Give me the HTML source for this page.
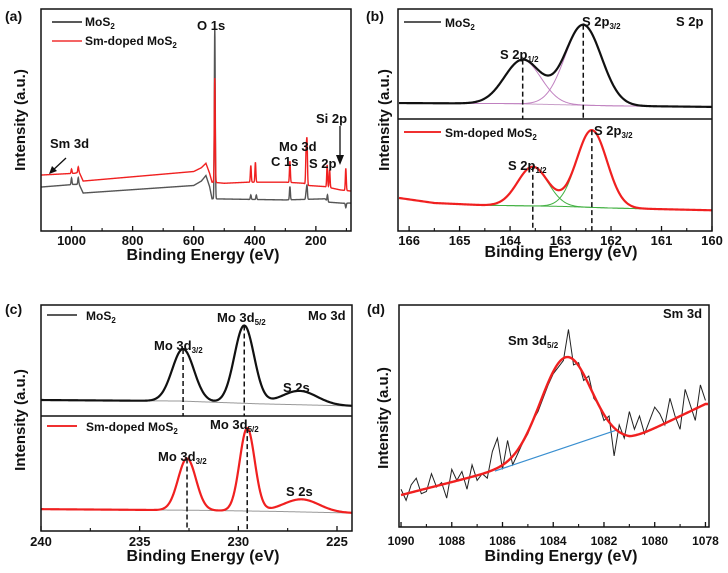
<!DOCTYPE html>
<html><head><meta charset="utf-8">
<style>
html,body{margin:0;padding:0;background:#fff;}
svg{display:block;font-family:"Liberation Sans",Arial,sans-serif;font-weight:bold;}
text{font-weight:bold;fill:#111;}
</style></head>
<body>
<svg id="fig" width="728" height="573" viewBox="0 0 728 573" xmlns="http://www.w3.org/2000/svg">
<rect x="0" y="0" width="728" height="573" fill="#fff"/>
<g id="layerA"></g>
<g id="layerB"></g>
<g id="layerC"></g>
<g id="layerD"></g>

<rect x="41" y="9" width="310" height="222" fill="none" stroke="#111" stroke-width="1.5"/>
<rect x="398" y="9" width="314" height="222" fill="none" stroke="#111" stroke-width="1.5"/>
<line x1="398" y1="119" x2="712" y2="119" stroke="#111" stroke-width="1.5"/>
<rect x="41" y="305" width="311" height="226" fill="none" stroke="#111" stroke-width="1.5"/>
<line x1="41" y1="416" x2="352" y2="416" stroke="#111" stroke-width="1.5"/>
<rect x="399" y="305" width="310" height="222" fill="none" stroke="#111" stroke-width="1.5"/>

<text x="5" y="21" font-size="14">(a)</text>
<text x="366" y="21" font-size="14">(b)</text>
<text x="5" y="314" font-size="14">(c)</text>
<text x="367" y="314" font-size="14">(d)</text>

<text transform="translate(25,120) rotate(-90)" text-anchor="middle" font-size="15">Intensity (a.u.)</text>
<text transform="translate(389,120) rotate(-90)" text-anchor="middle" font-size="15">Intensity (a.u.)</text>
<text transform="translate(25,420) rotate(-90)" text-anchor="middle" font-size="15">Intensity (a.u.)</text>
<text transform="translate(388,418) rotate(-90)" text-anchor="middle" font-size="15">Intensity (a.u.)</text>

<text x="203" y="260" text-anchor="middle" font-size="16">Binding Energy (eV)</text>
<text x="561" y="257" text-anchor="middle" font-size="16">Binding Energy (eV)</text>
<text x="203" y="561" text-anchor="middle" font-size="16">Binding Energy (eV)</text>
<text x="561" y="561" text-anchor="middle" font-size="16">Binding Energy (eV)</text>

<line x1="52" y1="22" x2="82" y2="22" stroke="#222" stroke-width="1.5"/>
<text x="85" y="26" font-size="12">MoS<tspan font-size="8" dy="3">2</tspan></text>
<line x1="52" y1="41" x2="82" y2="41" stroke="#f03030" stroke-width="1.5"/>
<text x="85" y="45" font-size="12">Sm-doped MoS<tspan font-size="8" dy="3">2</tspan></text>
<text x="197" y="30" font-size="13">O 1s</text>
<text x="279" y="151" font-size="13">Mo 3d</text>
<text x="271" y="166" font-size="13">C 1s</text>
<text x="309" y="168" font-size="13">S 2p</text>
<text x="316" y="123" font-size="13">Si 2p</text>
<text x="50" y="148" font-size="13">Sm 3d</text>
<line x1="66" y1="158" x2="51" y2="172" stroke="#111" stroke-width="1.3"/>
<polygon points="49,174 52,166 57,171" fill="#111"/>
<line x1="340" y1="126" x2="340" y2="158" stroke="#111" stroke-width="1.3"/>
<polygon points="336,155 344,155 340,165" fill="#111"/>

<line x1="404" y1="22" x2="441" y2="22" stroke="#222" stroke-width="1.5"/>
<text x="445" y="27" font-size="12">MoS<tspan font-size="8" dy="3">2</tspan></text>
<line x1="404" y1="132" x2="441" y2="132" stroke="#f03030" stroke-width="2"/>
<text x="445" y="137" font-size="12">Sm-doped MoS<tspan font-size="8" dy="3">2</tspan></text>
<text x="676" y="26" font-size="13">S 2p</text>
<text x="582" y="26" font-size="13">S 2p<tspan font-size="8" dy="3">3/2</tspan></text>
<text x="500" y="59" font-size="13">S 2p<tspan font-size="8" dy="3">1/2</tspan></text>
<text x="594" y="135" font-size="13">S 2p<tspan font-size="8" dy="3">3/2</tspan></text>
<text x="508" y="170" font-size="13">S 2p<tspan font-size="8" dy="3">1/2</tspan></text>

<line x1="47" y1="315" x2="77" y2="315" stroke="#222" stroke-width="1.5"/>
<text x="86" y="320" font-size="12">MoS<tspan font-size="8" dy="3">2</tspan></text>
<line x1="47" y1="426" x2="77" y2="426" stroke="#f03030" stroke-width="2"/>
<text x="86" y="431" font-size="12">Sm-doped MoS<tspan font-size="8" dy="3">2</tspan></text>
<text x="308" y="320" font-size="13">Mo 3d</text>
<text x="154" y="350" font-size="13">Mo 3d<tspan font-size="8" dy="3">3/2</tspan></text>
<text x="217" y="322" font-size="13">Mo 3d<tspan font-size="8" dy="3">5/2</tspan></text>
<text x="283" y="392" font-size="13">S 2s</text>
<text x="158" y="461" font-size="13">Mo 3d<tspan font-size="8" dy="3">3/2</tspan></text>
<text x="210" y="429" font-size="13">Mo 3d<tspan font-size="8" dy="3">5/2</tspan></text>
<text x="286" y="496" font-size="13">S 2s</text>

<text x="663" y="318" font-size="13">Sm 3d</text>
<text x="508" y="345" font-size="13">Sm 3d<tspan font-size="8" dy="3">5/2</tspan></text>
</svg>

<script>
const aBlackBgE=[1100,990,975,962,600,575,560,548,540,400,300,170,160,110,85];
const aBlackBgV=[19.8,21,21,17.1,20.5,22.5,25,20,14.5,14.2,14,14.5,13,12.5,12.6];
const aBlackPeakE=[531,229,232,285,162,395,413,1000,978,102];
const aBlackPeakH=[77,6,3,6,3,2,2,3,3,-2];
const aRedBgE=[1100,990,975,962,600,575,560,548,540,500,420,300,240,225,170,120,85];
const aRedBgV=[25.2,26,26.5,22.5,26.8,28.5,30.5,26,22,21.5,22,22,21.5,20.5,20,18.5,18];
const aRedPeakE=[531,229,232,285,163,155,102,398,413,1000,978];
const aRedPeakH=[47,19,14,9.6,10,8,10,9,7.5,2,2.5];
const aTicks=[1000,800,600,400,200];
const aMinor=[900,700,500,300,100];

const bTopBgE=[166.2,164,162,160];
const bTopBgV=[14.5,14,12,11];
const bTopPeakE=[163.75,162.55];
const bTopPeakH=[40,73];
const bTopSigma=[0.36,0.36];
const bBotBgE=[166.2,165.5,164.5,163,162,161,160];
const bBotBgV=[29.5,25,23,22,20.5,19.5,18.5];
const bBotPeakE=[163.55,162.38];
const bBotPeakH=[35,69];
const bBotSigma=[0.3,0.3];
const bTicks=[166,165,164,163,162,161,160];
const bMinor=[165.5,164.5,163.5,162.5,161.5,160.5];

const cTopBgE=[240,233,229,224.2];
const cTopBgV=[14.4,13.5,11,9];
const cTopPeakE=[232.8,229.7,226.9];
const cTopPeakH=[47,70,12.5];
const cTopSigma=[0.55,0.5,0.9];
const cBotBgE=[240,232,228,224.2];
const cBotBgV=[19,18,17,15.6];
const cBotPeakE=[232.6,229.55,226.8];
const cBotPeakH=[45,72,11];
const cBotSigma=[0.45,0.38,0.9];
const cTicks=[240,235,230,225];
const cMinor=[237.5,232.5,227.5];

const dRawStart=1090;
const dRawStep=-0.2;
const dRawV=[17,12,19,22,15,16,24,18,20,13,
 26,21,25,17,28,21,24,22,34,40,
 26,39,28,33,38,42,48,52,58,64,
 69,72,75,89,73,74,66,68,58,55,
 48,50,32,46,40,52,44,50,42,48,
 54,51,46,58,50,44,62,55,48,64,57];
const dBgE=[1090,1086.3,1081,1078];
const dBgV=[14.4,25.2,39,55.4];
const dPeakE=[1083.5];
const dPeakH=[44];
const dSigma=[1.0];
const dLineE=[1086.3,1081.5];
const dTicks=[1090,1088,1086,1084,1082,1080,1078];
const dMinor=[1089,1087,1085,1083,1081,1079];

const NS="http://www.w3.org/2000/svg";
function mk(parent,tag,attrs){const e=document.createElementNS(NS,tag);for(const k in attrs)e.setAttribute(k,attrs[k]);parent.appendChild(e);return e;}
function scale(d0,d1,r0,r1){return v=>r0+(v-d0)/(d1-d0)*(r1-r0);}
function interp(xs,vs,x){
  for(let i=0;i<xs.length-1;i++){
    const a=xs[i],b=xs[i+1];
    if((x<=a&&x>=b)||(x>=a&&x<=b)){const t=(x-a)/(b-a);return vs[i]+t*(vs[i+1]-vs[i]);}
  }
  return Math.abs(x-xs[0])<Math.abs(x-xs[xs.length-1])?vs[0]:vs[vs.length-1];
}
function g(x,c,h,s){return h*Math.exp(-(x-c)*(x-c)/(2*s*s));}
function sample(e0,e1,step,fn,sx,sy){
  let d="";const n=Math.round(Math.abs(e1-e0)/step);
  for(let i=0;i<=n;i++){const e=e0+(e1-e0)*i/n;d+=(i?"L":"M")+sx(e).toFixed(2)+","+sy(fn(e)).toFixed(2);}
  return d;
}
function ticks(layer,arr,minor,sx,yb,len,fs,ly,prefix){
  arr.forEach(t=>{
    const l=mk(layer,"line",{x1:sx(t),x2:sx(t),y1:yb,y2:yb-len,stroke:"#111","stroke-width":1.3});
    
    
    const tx=mk(layer,"text",{x:sx(t),y:ly,"text-anchor":"middle","font-size":fs});
    tx.textContent=String(t);
    
    
  });
  minor.forEach(t=>{
    const l=mk(layer,"line",{x1:sx(t),x2:sx(t),y1:yb,y2:yb-len*0.6,stroke:"#111","stroke-width":1.1});
    
    
  });
}

(function(){
  const L=document.getElementById('layerA');
  const sx=scale(1100,85,41,351), sy=scale(0,100,231,9);
  const fb=e=>interp(aBlackBgE,aBlackBgV,e)+aBlackPeakE.reduce((s,c,i)=>s+g(e,c,aBlackPeakH[i],1.5),0);
  const fr=e=>interp(aRedBgE,aRedBgV,e)+aRedPeakE.reduce((s,c,i)=>s+g(e,c,aRedPeakH[i],1.5),0);
  const p1=mk(L,"path",{d:sample(1100,85,0.5,fb,sx,sy),fill:"none",stroke:"#555","stroke-width":1.4});
  
  
  const p2=mk(L,"path",{d:sample(1100,85,0.5,fr,sx,sy),fill:"none",stroke:"#f02020","stroke-width":1.4});
  
  
  ticks(L,aTicks,aMinor.filter(v=>v>=85),sx,231,5,13,245,'panel-a-x');
})();

(function(){
  const L=document.getElementById('layerB');
  const sx=scale(166.22,160,398,712);
  const syT=scale(0,100,119,9), syB=scale(0,100,231,119);
  const bt=e=>interp(bTopBgE,bTopBgV,e), bb=e=>interp(bBotBgE,bBotBgV,e);
  const ptb=mk(L,"path",{d:sample(166.2,160,0.02,bt,sx,syT),fill:"none",stroke:"#c9a0c9","stroke-width":1});
  
  
  bTopPeakE.forEach((c,i)=>{const p=mk(L,"path",{d:sample(166.2,160,0.02,e=>bt(e)+g(e,c,bTopPeakH[i],bTopSigma[i]),sx,syT),fill:"none",stroke:"#c080c0","stroke-width":1});
    
    });
  const pt=mk(L,"path",{d:sample(166.2,160,0.02,e=>bt(e)+bTopPeakE.reduce((s,c,i)=>s+g(e,c,bTopPeakH[i],bTopSigma[i]),0),sx,syT),fill:"none",stroke:"#111","stroke-width":2.2});
  
  
  const pbg=mk(L,"path",{d:sample(166.2,160,0.02,bb,sx,syB),fill:"none",stroke:"#40b040","stroke-width":1});
  
  
  bBotPeakE.forEach((c,i)=>{const p=mk(L,"path",{d:sample(166.2,160,0.02,e=>bb(e)+g(e,c,bBotPeakH[i],bBotSigma[i]),sx,syB),fill:"none",stroke:"#40b040","stroke-width":1});
    
    });
  const pb=mk(L,"path",{d:sample(166.2,160,0.02,e=>bb(e)+bBotPeakE.reduce((s,c,i)=>s+g(e,c,bBotPeakH[i],bBotSigma[i]),0),sx,syB),fill:"none",stroke:"#f02020","stroke-width":2.2});
  
  
  bTopPeakE.forEach((c,i)=>{const y=syT(bt(c)+bTopPeakE.reduce((s,cc,j)=>s+g(c,cc,bTopPeakH[j],bTopSigma[j]),0));
    const l=mk(L,"line",{x1:sx(c),x2:sx(c),y1:y,y2:syT(0),stroke:"#111","stroke-width":1.5,"stroke-dasharray":"5,3"});
    
    });
  bBotPeakE.forEach((c,i)=>{const y=syB(bb(c)+bBotPeakE.reduce((s,cc,j)=>s+g(c,cc,bBotPeakH[j],bBotSigma[j]),0));
    const l=mk(L,"line",{x1:sx(c),x2:sx(c),y1:y,y2:syB(0),stroke:"#111","stroke-width":1.5,"stroke-dasharray":"5,3"});
    
    });
  ticks(L,bTicks,bMinor,sx,231,5,13,245,'panel-b-x');
})();

(function(){
  const L=document.getElementById('layerC');
  const sx=scale(240,224.24,41,352);
  const syT=scale(0,100,416,305), syB=scale(0,100,531,416);
  const bt=e=>interp(cTopBgE,cTopBgV,e), bb=e=>interp(cBotBgE,cBotBgV,e);
  const ft=e=>bt(e)+cTopPeakE.reduce((s,c,i)=>s+g(e,c,cTopPeakH[i],cTopSigma[i]),0);
  const fbm=e=>bb(e)+cBotPeakE.reduce((s,c,i)=>s+g(e,c,cBotPeakH[i],cBotSigma[i]),0);
  const a=mk(L,"path",{d:sample(240,224.24,0.05,bt,sx,syT),fill:"none",stroke:"#999","stroke-width":1});
  
  
  const b=mk(L,"path",{d:sample(240,224.24,0.05,bb,sx,syB),fill:"none",stroke:"#999","stroke-width":1});
  
  
  const pt=mk(L,"path",{d:sample(240,224.24,0.05,ft,sx,syT),fill:"none",stroke:"#111","stroke-width":2.2});
  
  
  const pb=mk(L,"path",{d:sample(240,224.24,0.05,fbm,sx,syB),fill:"none",stroke:"#f02020","stroke-width":2.2});
  
  
  cTopPeakE.slice(0,2).forEach(c=>{const l=mk(L,"line",{x1:sx(c),x2:sx(c),y1:syT(ft(c)),y2:syT(0),stroke:"#111","stroke-width":1.5,"stroke-dasharray":"5,3"});
    
    });
  cBotPeakE.slice(0,2).forEach(c=>{const l=mk(L,"line",{x1:sx(c),x2:sx(c),y1:syB(fbm(c)),y2:syB(0),stroke:"#111","stroke-width":1.5,"stroke-dasharray":"5,3"});
    
    });
  ticks(L,cTicks,cMinor,sx,531,5,13,546,'panel-c-x');
})();

(function(){
  const L=document.getElementById('layerD');
  const sx=scale(1090.08,1077.86,399,709), sy=scale(0,100,527,305);
  const bg=e=>interp(dBgE,dBgV,e);
  const fit=e=>bg(e)+dPeakE.reduce((s,c,i)=>s+g(e,c,dPeakH[i],dSigma[i]),0);
  let d="";
  dRawV.forEach((v,i)=>{const e=dRawStart+dRawStep*i;d+=(i?"L":"M")+sx(e).toFixed(2)+","+sy(v).toFixed(2);});
  const raw=mk(L,"path",{d:d,fill:"none",stroke:"#222","stroke-width":1});
  
  
  const bl=mk(L,"line",{x1:sx(dLineE[0]),y1:sy(bg(dLineE[0])),x2:sx(dLineE[1]),y2:sy(fit(dLineE[1])),stroke:"#3a8fd0","stroke-width":1.2});
  
  
  const f=mk(L,"path",{d:sample(1090,1077.9,0.05,fit,sx,sy),fill:"none",stroke:"#f02020","stroke-width":2.4});
  
  
  ticks(L,dTicks,dMinor,sx,527,5,12,545,'panel-d-x');
})();
</script>
</body></html>
